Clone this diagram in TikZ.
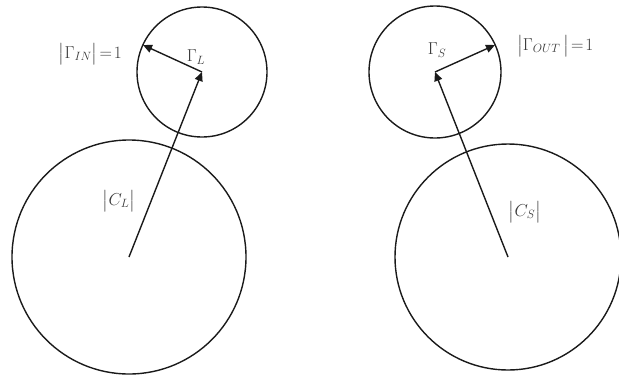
\documentclass[tikz,border=0pt]{standalone}
\usepackage{amsmath}
\usetikzlibrary{arrows.meta}
\definecolor{chartink}{HTML}{1A1A1A}
\definecolor{chartlabel}{HTML}{3A3A3A}

\begin{document}
\begin{tikzpicture}[
  x=1pt,
  y=-1pt,
  every node/.style={font=\fontsize{18}{20}\selectfont, chartlabel, inner sep=0pt},
  ring/.style={chartink, line width=1.4pt},
  radial/.style={chartink, line width=1.4pt, -{Triangle[length=9pt, width=8pt]}}
]
  \useasboundingbox (0,0) rectangle (619,376);

  % ---- centres of the circles ----
  \coordinate (bigL)   at (129,257);
  \coordinate (smallL) at (202,72);
  \coordinate (bigR)   at (508,257);
  \coordinate (smallR) at (435,72);

  % ---- points where the radius arrows meet the small circles ----
  \coordinate (edgeL) at (143,45);
  \coordinate (edgeR) at (495,45);

  % ---- load side (left) ----
  \draw[ring] (bigL) circle[radius=117];
  \draw[ring] (smallL) circle[radius=65];
  \draw[radial] (bigL) -- (smallL);
  \draw[radial] (smallL) -- (edgeL);

  % ---- source side (right) ----
  \draw[ring] (bigR) circle[radius=113];
  \draw[ring] (smallR) circle[radius=66];
  \draw[radial] (bigR) -- (smallR);
  \draw[radial] (smallR) -- (edgeR);

  % ---- labels ----
  \node[anchor=east] (gin)  at (122,54)  {$\bigl|\Gamma_{IN}\bigr|\!=\!1$};
  \node (gl)                at (196,57)  {$\Gamma_L$};
  \node (cl)                at (119,201) {$\bigl|C_L\bigr|$};
  \node (gs)                at (437,50)  {$\Gamma_S$};
  \node[anchor=west] (gout) at (517,46)  {$\bigl|\Gamma_{OUT}\,\bigr|\!=\!1$};
  \node (cs)                at (525,212) {$\bigl|C_S\bigr|$};
\end{tikzpicture}
\end{document}
